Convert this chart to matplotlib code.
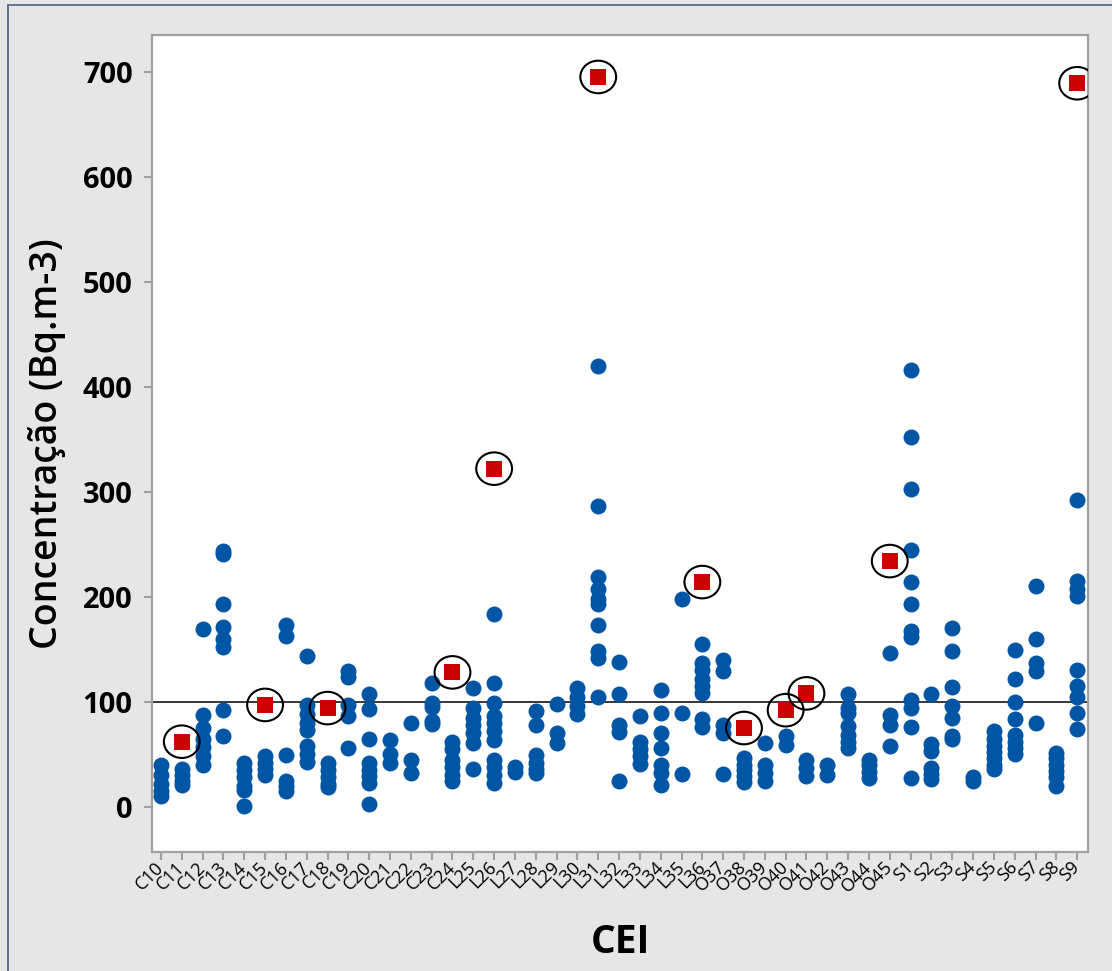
import matplotlib.pyplot as plt
from matplotlib.patches import Ellipse, Rectangle

# sampling points (CEI) and measured radon concentrations, Bq.m-3
cats_C = ['C10', 'C11', 'C12', 'C13', 'C14', 'C15', 'C16', 'C17', 'C18',
          'C19', 'C20', 'C21', 'C22', 'C23', 'C24']
cats_L = ['L25', 'L26', 'L27', 'L28', 'L29', 'L30', 'L31', 'L32', 'L33',
          'L34', 'L35', 'L36']
cats_O = ['O37', 'O38', 'O39', 'O40', 'O41', 'O42', 'O43', 'O44', 'O45']
cats_S = ['S1', 'S2', 'S3', 'S4', 'S5', 'S6', 'S7', 'S8', 'S9']

vals_C = [
    [40, 30, 22, 15, 10],
    [36, 30, 25, 21],
    [169, 87, 75, 65, 57, 48, 40],
    [244, 241, 193, 171, 160, 152, 92, 67],
    [42, 35, 28, 20, 16, 1],
    [48, 42, 36, 30],
    [173, 163, 49, 25, 20, 15],
    [144, 97, 88, 80, 73, 58, 50, 43],
    [42, 35, 28, 22, 19],
    [129, 124, 97, 86, 56],
    [107, 93, 65, 42, 35, 29, 23, 3],
    [64, 50, 42],
    [80, 45, 32],
    [118, 99, 95, 82, 79],
    [62, 55, 45, 38, 30, 25],
]
vals_L = [
    [113, 94, 85, 78, 70, 61, 36],
    [184, 118, 99, 86, 80, 72, 64, 45, 38, 30, 23],
    [38, 33],
    [91, 78, 49, 42, 36, 32],
    [98, 70, 61],
    [113, 105, 96, 88],
    [420, 286, 219, 207, 198, 193, 173, 148, 142, 105],
    [138, 107, 78, 71, 25],
    [86, 62, 55, 48, 41],
    [111, 89, 70, 56, 40, 32, 21],
    [198, 89, 31],
    [155, 137, 130, 122, 115, 108, 84, 76],
]
vals_O = [
    [140, 129, 78, 70, 31],
    [46, 40, 35, 29, 24],
    [61, 40, 32, 25],
    [67, 59],
    [45, 37, 29],
    [40, 30],
    [107, 94, 89, 77, 68, 62, 56],
    [45, 40, 33, 27],
    [146, 87, 78, 58],
]
vals_S = [
    [416, 352, 303, 245, 214, 193, 167, 162, 102, 94, 76, 27],
    [107, 60, 53, 37, 31, 26],
    [170, 148, 114, 96, 85, 67, 65],
    [28, 25],
    [72, 65, 58, 52, 46, 40, 36],
    [149, 122, 100, 84, 68, 62, 56, 50],
    [210, 160, 137, 129, 80],
    [51, 46, 40, 34, 28, 20],
    [292, 215, 207, 201, 130, 115, 105, 89, 74],
]

# highlighted (circled) maxima
peak_cats = ['C11', 'C15', 'C18', 'C24', 'L26', 'L31', 'L36', 'O38',
             'O40', 'O41', 'O45', 'S9']
peak_vals = [62, 97, 94, 128, 322, 695, 214, 75, 92, 108, 234, 689]

ref_level = 100
yticks = [0, 100, 200, 300, 400, 500, 600, 700]

categories = cats_C + cats_L + cats_O + cats_S
values = vals_C + vals_L + vals_O + vals_S

plt.rcParams['font.family'] = ['Open Sans', 'DejaVu Sans']

fig = plt.figure(figsize=(11.12, 9.71), dpi=100, facecolor='#e6e6e6')
ax = fig.add_axes([0.1367, 0.1226, 0.8417, 0.8414])

# outer frame of the graph window
fig.patches.append(Rectangle((8 / 1112, -0.1), 1.2, 1.1 - 5 / 971,
                             transform=fig.transFigure, fill=False,
                             edgecolor='#55688f', linewidth=1.3))

xs, ys = [], []
for i, v in enumerate(values):
    xs += [i] * len(v)
    ys += v
ax.plot(xs, ys, 'o', color='#0055a5', markersize=11.5, markeredgewidth=0,
        zorder=3)

ax.axhline(ref_level, color='k', linewidth=1.1, zorder=2)

px = [categories.index(c) for c in peak_cats]
ax.plot(px, peak_vals, 's', color='#cc0000', markersize=11.5,
        markeredgewidth=0, zorder=4)
for x, y in zip(px, peak_vals):
    ax.add_patch(Ellipse((x, y), 1.72, 31, fill=False, edgecolor='k',
                         linewidth=1.5, zorder=5))

ax.set_xlim(-0.43, len(categories) - 0.48)
ax.set_ylim(-43, 735)
ax.set_xticks(range(len(categories)))
ax.set_xticklabels(categories, rotation=45, ha='right', va='center',
                   rotation_mode='anchor', fontsize=13)
ax.set_yticks(yticks)
ax.set_yticklabels([str(t) for t in yticks], fontsize=21, fontweight='bold')

for s in ax.spines.values():
    s.set_color('#a0a0a0')
    s.set_linewidth(1.6)
ax.tick_params(axis='both', colors='#a0a0a0', labelcolor='k', length=6,
               width=1.5)
ax.tick_params(axis='y', pad=8)
ax.tick_params(axis='x', pad=3)

ax.set_xlabel('CEI', fontsize=28, fontweight='bold', labelpad=20)
ax.set_ylabel('Concentração (Bq.m-3)', fontsize=27, fontweight='semibold',
              labelpad=12)

plt.savefig('out.png', dpi=100, facecolor=fig.get_facecolor())
